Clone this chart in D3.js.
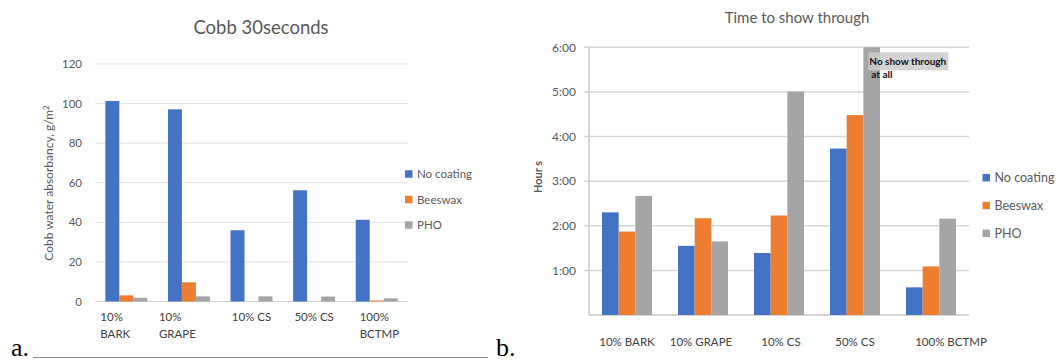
<!DOCTYPE html>
<html>
<head>
<meta charset="utf-8">
<script src="https://cdn.jsdelivr.net/npm/d3@7"></script>
<style>
  body { margin: 0; background: #fff; }
  svg { display: block; font-family: Lato, "Noto Sans", sans-serif; }
</style>
</head>
<body>
<svg width="1058" height="361"></svg>
<script>
// ---- data ----
const seriesNames = ['No coating', 'Beeswax', 'PHO'];
const colors = ['#4472c4', '#ed7d31', '#a5a5a5'];

// panel a: Cobb 30 seconds
const catsA = [['10%', 'BARK'], ['10%', 'GRAPE'], ['10% CS'], ['50% CS'], ['100%', 'BCTMP']];
const noCoatingA = [101.3, 97.1, 36.0, 56.2, 41.3];
const beeswaxA = [3.1, 9.7, 0, 0, 0.5];
const phoA = [1.9, 2.6, 2.6, 2.5, 1.6];
const ticksA = [0, 20, 40, 60, 80, 100, 120];

// panel b: time to show through (hours)
const catsB = ['10% BARK', '10% GRAPE', '10% CS', '50% CS', '100% BCTMP'];
const noCoatingB = [2.30, 1.55, 1.39, 3.73, 0.62];
const beeswaxB = [1.87, 2.17, 2.23, 4.48, 1.09];
const phoB = [2.67, 1.65, 5.01, 6.0, 2.16];
const ticksB = [1, 2, 3, 4, 5, 6];

const svg = d3.select('svg');
const textGray = '#595959';

function drawBars(g, cats, values, x0, y) {
  const x1 = d3.scaleBand().domain(d3.range(seriesNames.length)).range([0, x0.bandwidth()]);
  cats.forEach((c, i) => {
    values.forEach((vals, s) => {
      const v = vals[i];
      if (v <= 0) return;
      g.append('rect')
        .attr('x', x0(i) + x1(s))
        .attr('width', x1.bandwidth())
        .attr('y', y(v))
        .attr('height', y(0) - y(v))
        .attr('fill', colors[s]);
    });
  });
  return x1;
}

function drawLegend(g, x, y0, gap, size, fs) {
  seriesNames.forEach((n, i) => {
    const yy = y0 + i * gap;
    g.append('rect').attr('x', x).attr('y', yy - size / 2).attr('width', size).attr('height', size).attr('fill', colors[i]);
    g.append('text').attr('x', x + size + 4.5).attr('y', yy).attr('dy', '0.35em')
      .attr('font-size', fs).attr('fill', textGray).text(n);
  });
}

// ================= panel a =================
{
  const g = svg.append('g');
  const x0 = d3.scaleBand().domain(d3.range(catsA.length)).range([95, 408])
    .paddingInner(0.33).paddingOuter(0.165);
  const y = d3.scaleLinear().domain([0, 120]).range([301.5, 64]);

  ticksA.forEach(t => {
    g.append('line').attr('x1', 95).attr('x2', 408).attr('y1', y(t)).attr('y2', y(t))
      .attr('stroke', t === 0 ? '#d0d0d0' : '#e2e2e2').attr('stroke-width', 1);
    g.append('text').attr('x', 82).attr('y', y(t)).attr('dy', '0.35em')
      .attr('text-anchor', 'end').attr('font-size', 11.5).attr('fill', textGray).text(t);
  });

  drawBars(g, catsA, [noCoatingA, beeswaxA, phoA], x0, y);

  // category labels (Excel wrapped them oddly)
  const labelDx = [-26, -30, 0, 0, -17];
  catsA.forEach((lines, i) => {
    const cx = x0(i) + x0.bandwidth() / 2;
    const t = g.append('text').attr('font-size', 11.5).attr('fill', '#404040')
      .attr('text-anchor', lines.length > 1 ? 'start' : 'middle');
    lines.forEach((l, k) => {
      t.append('tspan').attr('x', cx + labelDx[i]).attr('y', 321 + k * 16.5).text(l);
    });
  });

  g.append('text').attr('x', 261).attr('y', 34).attr('text-anchor', 'middle')
    .attr('font-size', 18.5).attr('fill', textGray).text('Cobb 30seconds');

  const yt = g.append('text').attr('transform', 'translate(53,183) rotate(-90)')
    .attr('text-anchor', 'middle').attr('font-size', 12).attr('fill', textGray);
  yt.append('tspan').text('Cobb water absorbancy, g/m');
  yt.append('tspan').attr('font-size', 8).attr('dy', -4).text('2');

  drawLegend(g, 405, 174, 25.5, 7.5, 11.5);

  // figure caption "a." with rule
  g.append('text').attr('x', 11).attr('y', 356).attr('font-family', '"Liberation Serif", serif')
    .attr('font-size', 26).attr('fill', '#000').text('a.');
  g.append('line').attr('x1', 33).attr('x2', 488).attr('y1', 357.5).attr('y2', 357.5)
    .attr('stroke', '#888').attr('stroke-width', 1);
}

// ================= panel b =================
{
  const g = svg.append('g');
  const x0 = d3.scaleBand().domain(d3.range(catsB.length)).range([589, 969])
    .paddingInner(0.342).paddingOuter(0.171);
  const y = d3.scaleLinear().domain([0, 6]).range([315, 47.3]);

  ticksB.forEach(t => {
    g.append('line').attr('x1', 584).attr('x2', 969).attr('y1', y(t)).attr('y2', y(t))
      .attr('stroke', '#d6d6d6').attr('stroke-width', 1.5);
    g.append('text').attr('x', 576).attr('y', y(t)).attr('dy', '0.35em')
      .attr('text-anchor', 'end').attr('font-size', 12).attr('fill', textGray).text(t + ':00');
  });
  g.append('line').attr('x1', 589).attr('x2', 589).attr('y1', y(6)).attr('y2', y(0))
    .attr('stroke', '#c8c8c8').attr('stroke-width', 1.5);
  g.append('line').attr('x1', 589).attr('x2', 969).attr('y1', y(0)).attr('y2', y(0))
    .attr('stroke', '#c8c8c8').attr('stroke-width', 1.5);

  const x1 = drawBars(g, catsB, [noCoatingB, beeswaxB, phoB], x0, y);

  const labelDx = [0, -2, 2, 0, 20];
  catsB.forEach((l, i) => {
    g.append('text').attr('x', x0(i) + x0.bandwidth() / 2 + labelDx[i]).attr('y', 346)
      .attr('text-anchor', 'middle').attr('font-size', 11.5).attr('fill', '#404040').text(l);
  });

  g.append('text').attr('x', 797).attr('y', 23).attr('text-anchor', 'middle')
    .attr('font-size', 15).attr('fill', textGray).text('Time to show through');

  g.append('text').attr('transform', 'translate(542,177) rotate(-90)')
    .attr('text-anchor', 'middle').attr('font-size', 11).attr('font-weight', 'bold')
    .attr('fill', textGray).text('Hour s');

  // annotation on the 50% CS PHO bar
  const ax = x0(3) + x1(2) + 5;
  const ay = y(6);
  g.append('rect').attr('x', ax).attr('y', ay + 5).attr('width', 80).attr('height', 18)
    .attr('fill', '#cdcdcd').attr('opacity', 0.85);
  const at = g.append('text').attr('font-size', 10).attr('font-weight', 'bold').attr('fill', '#111');
  at.append('tspan').attr('x', ax + 1).attr('y', ay + 18).text('No show through');
  at.append('tspan').attr('x', ax + 3).attr('y', ay + 31).text('at all');

  drawLegend(g, 982.5, 177.7, 27.8, 7.5, 12.5);

  g.append('text').attr('x', 496).attr('y', 356).attr('font-family', '"Liberation Serif", serif')
    .attr('font-size', 26).attr('fill', '#000').text('b.');
}
</script>
</body>
</html>
